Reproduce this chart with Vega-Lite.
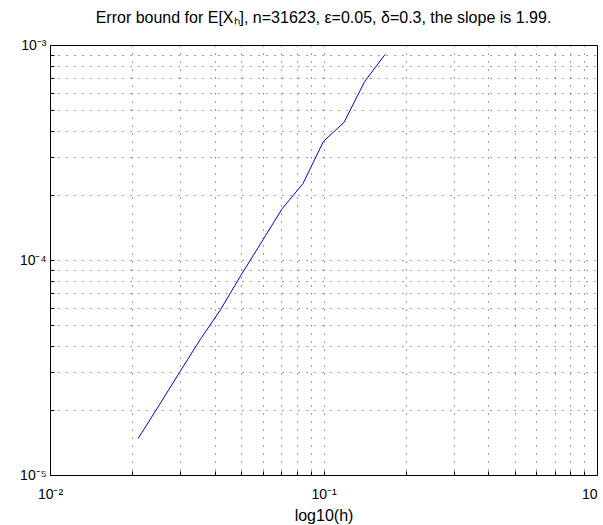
{
  "$schema": "https://vega.github.io/schema/vega-lite/v6.json",
  "autosize": "none",
  "width": 547,
  "height": 430,
  "padding": {"left": 50, "top": 45, "right": 6, "bottom": 50},
  "background": "white",
  "title": {
    "text": "Error bound for E[Xₕ], n=31623, ε=0.05, δ=0.3, the slope is 1.99.",
    "font": "Liberation Sans",
    "fontSize": 16,
    "fontWeight": "normal",
    "color": "black",
    "anchor": "middle",
    "offset": 12
  },
  "config": {
    "view": {"stroke": "black", "strokeWidth": 1},
    "axis": {
      "labelFont": "Liberation Sans",
      "titleFont": "Liberation Sans",
      "labelFontSize": 14,
      "titleFontSize": 16,
      "labelColor": "black",
      "titleColor": "black",
      "titleFontWeight": "normal",
      "domainColor": "black",
      "tickColor": "black",
      "gridColor": "black",
      "gridOpacity": 0.75,
      "gridDash": [1, 7],
      "gridWidth": 1,
      "labelOverlap": false,
      "labelBound": false,
      "labelFlush": false
    }
  },
  "data": {
    "values": [
      {"h": 0.0210, "err": 0.00001479},
      {"h": 0.0250, "err": 0.0000210},
      {"h": 0.0297, "err": 0.0000299},
      {"h": 0.0354, "err": 0.0000426},
      {"h": 0.0420, "err": 0.0000587},
      {"h": 0.0500, "err": 0.0000852},
      {"h": 0.0595, "err": 0.0001218},
      {"h": 0.0707, "err": 0.0001736},
      {"h": 0.0841, "err": 0.0002265},
      {"h": 0.1000, "err": 0.0003566},
      {"h": 0.1189, "err": 0.0004368},
      {"h": 0.1414, "err": 0.000676},
      {"h": 0.1682, "err": 0.000906}
    ]
  },
  "mark": {"type": "line", "color": "#0000ff", "strokeWidth": 1},
  "encoding": {
    "x": {
      "field": "h",
      "type": "quantitative",
      "scale": {"type": "log", "domain": [0.01, 1], "nice": false},
      "axis": {
        "title": "log10(h)",
        "titlePadding": 6,
        "values": [0.01, 0.02, 0.03, 0.04, 0.05, 0.06, 0.07, 0.08, 0.09, 0.1, 0.2, 0.3, 0.4, 0.5, 0.6, 0.7, 0.8, 0.9, 1],
        "labelExpr": "datum.value == 0.01 ? '10⁻²' : datum.value == 0.1 ? '10⁻¹' : datum.value == 1 ? '10' : ''",
        "labelAlign": {"condition": {"test": "datum.value == 1", "value": "right"}, "value": "center"},
        "tickSize": -4,
        "labelPadding": 16,
        "grid": true
      }
    },
    "y": {
      "field": "err",
      "type": "quantitative",
      "scale": {"type": "log", "domain": [0.00001, 0.001], "nice": false},
      "axis": {
        "title": null,
        "values": [0.00001, 0.00002, 0.00003, 0.00004, 0.00005, 0.00006, 0.00007, 0.00008, 0.00009, 0.0001, 0.0002, 0.0003, 0.0004, 0.0005, 0.0006, 0.0007, 0.0008, 0.0009, 0.001],
        "labelExpr": "datum.value == 0.00001 ? '10⁻⁵' : datum.value == 0.0001 ? '10⁻⁴' : datum.value == 0.001 ? '10⁻³' : ''",
        "tickSize": -4,
        "labelPadding": 8,
        "grid": true
      }
    }
  }
}
